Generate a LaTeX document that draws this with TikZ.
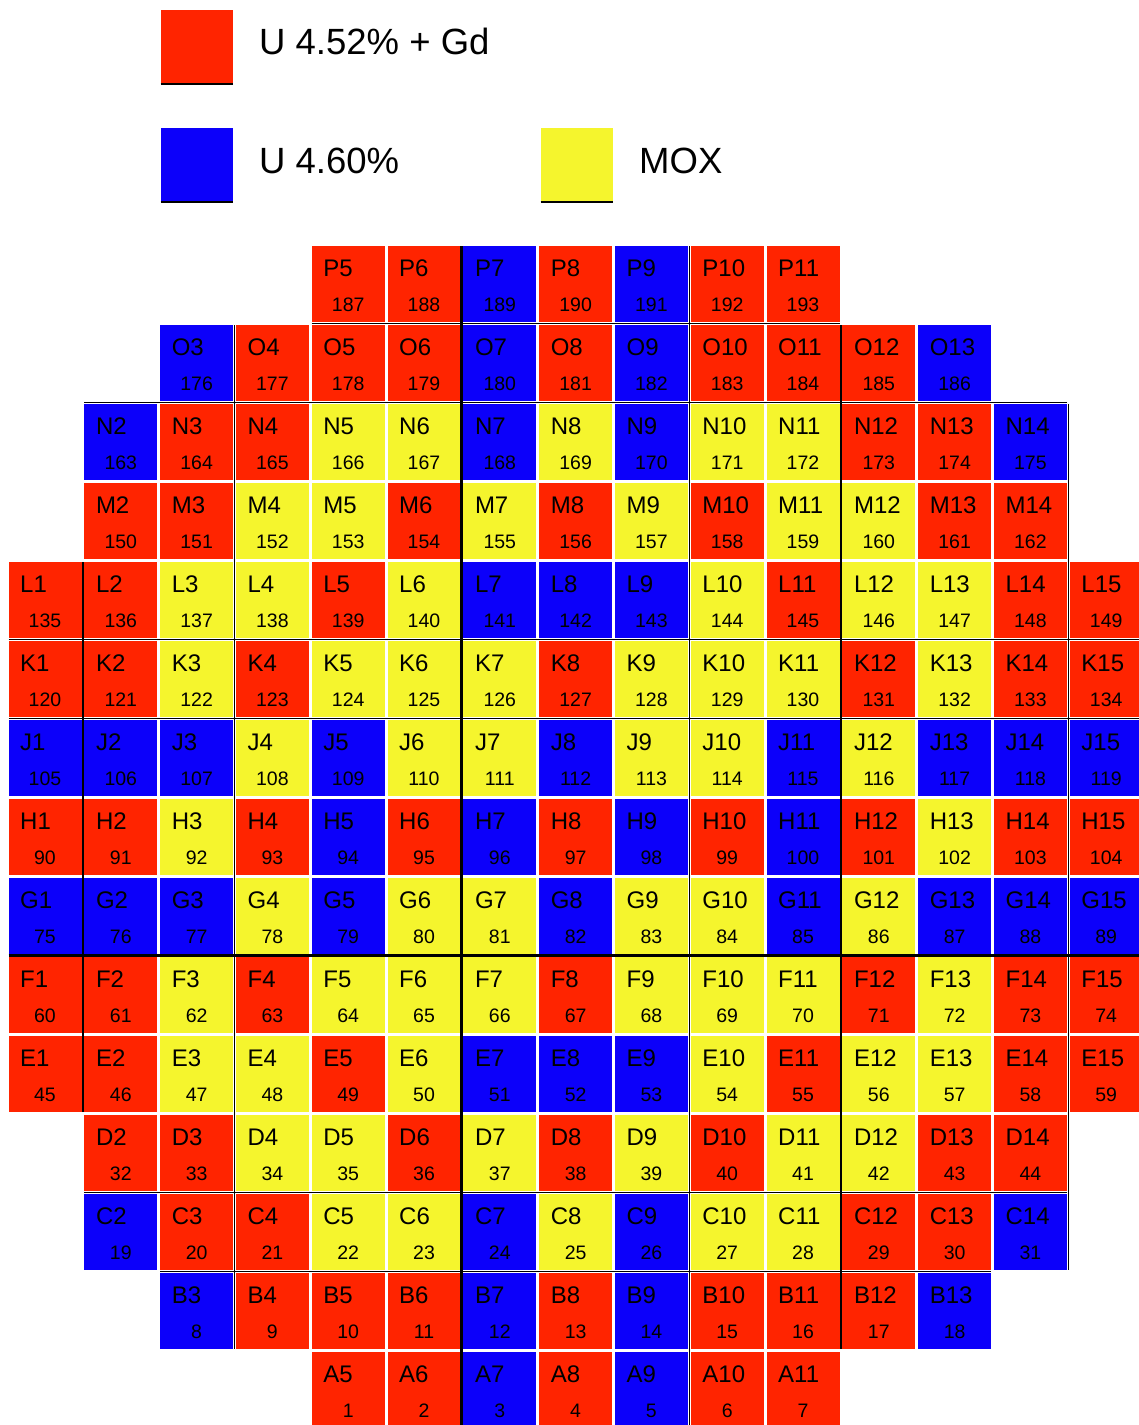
\documentclass[tikz,border=0pt]{standalone}
\usepackage{fontspec}
\setmainfont{Liberation Sans}
\definecolor{fuelR}{RGB}{255,36,0}
\definecolor{fuelB}{RGB}{12,0,250}
\definecolor{fuelY}{RGB}{245,245,45}
\begin{document}
\begin{tikzpicture}[x=1pt,y=-1pt,
  cell/.style={rectangle,inner sep=0pt,minimum width=73pt,minimum height=76pt,draw=none},
  lab/.style={anchor=base west,inner sep=0pt,font=\fontsize{24}{24}\selectfont},
  num/.style={anchor=base,inner sep=0pt,font=\fontsize{19.5}{19.5}\selectfont},
  legbox/.style={rectangle,inner sep=0pt,minimum width=72pt,minimum height=74pt,anchor=north west,draw=none},
  legtext/.style={anchor=base west,inner sep=0pt,font=\fontsize{36.5}{36.5}\selectfont},
  gridline/.style={black,line width=1.2pt},
  axisline/.style={black,line width=3pt}]
\useasboundingbox (0,0) rectangle (1139,1425);
\fill[white] (0,0) rectangle (1139,1425);
% legend
\node[legbox,fill=fuelR] (legR) at (160.5,10) {};
\node[legbox,fill=fuelB] (legB) at (160.5,128) {};
\node[legbox,fill=fuelY] (legY) at (540.5,128) {};
\draw[black,line width=2pt] (legR.south west) -- (legR.south east);
\draw[black,line width=2pt] (legB.south west) -- (legB.south east);
\draw[black,line width=2pt] (legY.south west) -- (legY.south east);
\node[legtext] (legRt) at (259,54.5) {U 4.52\% + Gd};
\node[legtext] (legBt) at (259,173.5) {U 4.60\%};
\node[legtext] (legYt) at (639,173) {MOX};
% core map
\foreach \r/\ri/\cs/\nst/\cols in {
 P/0/5/187/{R,R,B,R,B,R,R},
 O/1/3/176/{B,R,R,R,B,R,B,R,R,R,B},
 N/2/2/163/{B,R,R,Y,Y,B,Y,B,Y,Y,R,R,B},
 M/3/2/150/{R,R,Y,Y,R,Y,R,Y,R,Y,Y,R,R},
 L/4/1/135/{R,R,Y,Y,R,Y,B,B,B,Y,R,Y,Y,R,R},
 K/5/1/120/{R,R,Y,R,Y,Y,Y,R,Y,Y,Y,R,Y,R,R},
 J/6/1/105/{B,B,B,Y,B,Y,Y,B,Y,Y,B,Y,B,B,B},
 H/7/1/90/{R,R,Y,R,B,R,B,R,B,R,B,R,Y,R,R},
 G/8/1/75/{B,B,B,Y,B,Y,Y,B,Y,Y,B,Y,B,B,B},
 F/9/1/60/{R,R,Y,R,Y,Y,Y,R,Y,Y,Y,R,Y,R,R},
 E/10/1/45/{R,R,Y,Y,R,Y,B,B,B,Y,R,Y,Y,R,R},
 D/11/2/32/{R,R,Y,Y,R,Y,R,Y,R,Y,Y,R,R},
 C/12/2/19/{B,R,R,Y,Y,B,Y,B,Y,Y,R,R,B},
 B/13/3/8/{B,R,R,R,B,R,B,R,R,R,B},
 A/14/5/1/{R,R,B,R,B,R,R}}
{
  \foreach \c [count=\k from 0] in \cols {
    \pgfmathtruncatemacro{\cc}{\cs+\k}
    \pgfmathtruncatemacro{\nn}{\nst+\k}
    \pgfmathsetmacro{\xl}{8.5+(\cc-1)*75.8}
    \pgfmathsetmacro{\yt}{246+\ri*79}
    \node[cell,fill=fuel\c] (\r\cc) at (\xl+36.5,\yt+38) {};
    \node[lab] (t\r\cc) at (\xl+11.5,\yt+30.5) {\r\cc};
    \node[num] (n\r\cc) at (\xl+36.5,\yt+65) {\nn};
  }
}
% dark separator lines
\draw[gridline] (82.9,562) -- (82.9,1112);
\draw[gridline] (234.5,325) -- (234.5,1349);
\draw[gridline] (689.3,246) -- (689.3,1425);
\draw[gridline] (840.9,325) -- (840.9,1349);
\draw[gridline] (1068.3,404) -- (1068.3,1270);
\draw[gridline] (311.7,323.5) -- (839.5,323.5);
\draw[gridline] (84.3,402.5) -- (1066.9,402.5);
\draw[gridline] (8.5,639.5) -- (1139,639.5);
\draw[gridline] (8.5,718.5) -- (1139,718.5);
\draw[gridline] (84.3,1192.5) -- (1066.9,1192.5);
\draw[gridline] (160.1,1271.5) -- (991.1,1271.5);
\draw[axisline] (461.9,246) -- (461.9,1425);
\draw[axisline] (8.5,955.5) -- (1139,955.5);
\end{tikzpicture}
\end{document}
